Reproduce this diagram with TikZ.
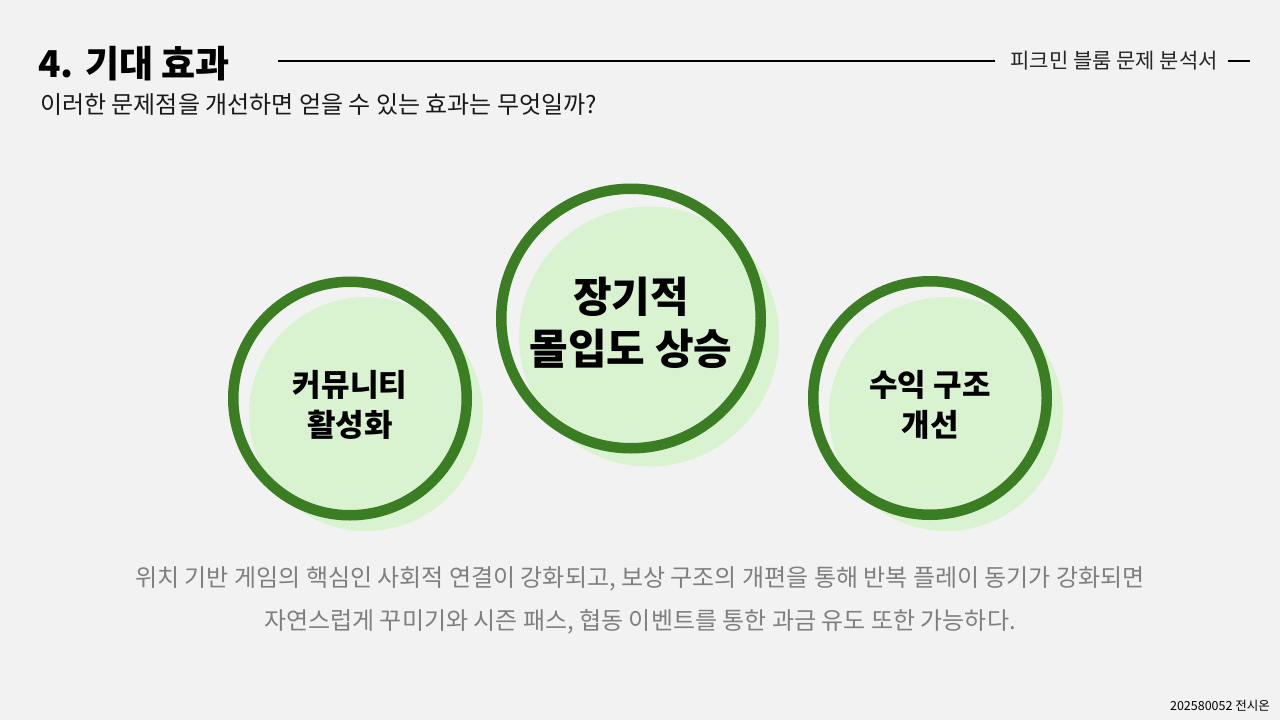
\documentclass[tikz,border=0pt]{standalone}
\usepackage{fontspec}
\newfontfamily\kr{Noto Sans CJK KR}
\definecolor{bg}{HTML}{F2F2F2}
\definecolor{ringgreen}{HTML}{3A7D22}
\definecolor{softgreen}{HTML}{D9F2D0}
\definecolor{bodygray}{HTML}{7F7F7F}
\tikzset{
  blob/.style={circle, fill=softgreen, draw=none, inner sep=0pt},
  ring/.style={circle, draw=ringgreen, line width=10.5pt, inner sep=0pt},
  smalllabel/.style={font=\kr\bfseries\fontsize{31}{40}\selectfont, align=center, inner sep=0pt},
  biglabel/.style={font=\kr\bfseries\fontsize{42}{52}\selectfont, align=center, inner sep=0pt},
  rule/.style={line width=2.4pt, black},
}
\begin{document}
\begin{tikzpicture}[x=1pt,y=-1pt]
\useasboundingbox (0,0) rectangle (1280,720);
\fill[bg] (0,0) rectangle (1280,720);

% header
\node[anchor=base west, inner sep=0pt, font=\kr\bfseries\fontsize{37}{42}\selectfont] (title) at (38,77) {4. 기대 효과};
\node[anchor=base west, inner sep=0pt, font=\kr\fontsize{24}{30}\selectfont, text=black!90] (sub) at (40,113) {이러한 문제점을 개선하면 얻을 수 있는 효과는 무엇일까?};
\node[anchor=base east, inner sep=0pt, font=\kr\fontsize{21}{24}\selectfont, text=black!85] (doc) at (1218,68) {피크민 블룸 문제 분석서};
\coordinate (l1a) at (278,61);
\coordinate (l1b) at (995,61);
\coordinate (l2a) at (1228,61);
\coordinate (l2b) at (1250,61);
\draw[rule] (l1a) -- (l1b);
\draw[rule] (l2a) -- (l2b);

% circles
\node[blob, minimum size=234pt] (b1) at (366,414) {};
\node[ring, minimum size=233.5pt] (r1) at (350,398.5) {};
\node[blob, minimum size=260pt] (b2) at (649,336.5) {};
\node[ring, minimum size=259.5pt] (r2) at (631,318.5) {};
\node[blob, minimum size=234pt] (b3) at (946,414) {};
\node[ring, minimum size=233.5pt] (r3) at (930,398) {};

\node[smalllabel] (t1) at (350,405) {커뮤니티\\활성화};
\node[biglabel] (t2) at (631,323) {장기적\\몰입도 상승};
\node[smalllabel] (t3) at (930,405) {수익 구조\\개선};

% body text
\node[align=center, inner sep=0pt, text=bodygray, font=\kr\fontsize{24}{43}\selectfont] (body) at (640,600)
  {위치 기반 게임의 핵심인 사회적 연결이 강화되고, 보상 구조의 개편을 통해 반복 플레이 동기가 강화되면\\자연스럽게 꾸미기와 시즌 패스, 협동 이벤트를 통한 과금 유도 또한 가능하다.};

% footer
\node[anchor=base east, inner sep=0pt, font=\kr\fontsize{12.5}{14}\selectfont] (foot) at (1270,710) {202580052 전시온};
\end{tikzpicture}
\end{document}
